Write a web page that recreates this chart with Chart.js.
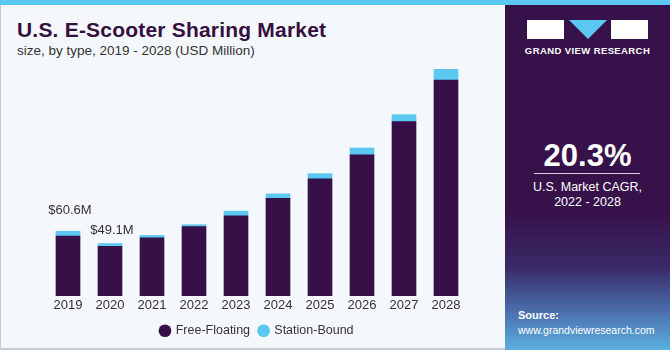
<!DOCTYPE html>
<html><head><meta charset="utf-8">
<script src="https://cdn.jsdelivr.net/npm/chart.js@4"></script>
<style>
html,body{margin:0;padding:0;}
body{width:670px;height:350px;position:relative;overflow:hidden;background:#f4f8fc;font-family:"Liberation Sans",Arial,sans-serif;}
#topbar{position:absolute;left:0;top:0;width:670px;height:5px;background:#5bc8f2;}
#leftline{position:absolute;left:0;top:5px;width:1px;height:345px;background:#c8ccd0;}
#botline{position:absolute;left:0;top:348px;width:505px;height:2px;background:#c8ccd0;}
#title{position:absolute;left:17px;top:18px;font-size:21px;font-weight:bold;color:#35103f;letter-spacing:0.2px;}
#sub{position:absolute;left:17px;top:43px;font-size:13.5px;color:#333;}
#panel{position:absolute;left:505px;top:5px;width:165px;height:345px;background:linear-gradient(to bottom,#37114a 0%,#37114a 60%,#3a2a68 76%,#4a6aa8 88%,#5bb0e0 100%);}
#wrap{position:absolute;left:0;top:0;width:505px;height:350px;}
.w{position:absolute;color:#fff;text-align:center;}
</style></head><body>
<div id="topbar"></div><div id="leftline"></div><div id="botline"></div>
<div id="title">U.S. E-Scooter Sharing Market</div>
<div id="sub">size, by type, 2019 - 2028 (USD Million)</div>
<div id="panel">
  <div style="position:absolute;left:22px;top:15px;width:37px;height:19px;background:#fff;"></div>
  <div style="position:absolute;left:64px;top:15px;width:0;height:0;border-left:19px solid transparent;border-right:19px solid transparent;border-top:19px solid #5bc8f2;"></div>
  <div style="position:absolute;left:106px;top:15px;width:37px;height:19px;background:#fff;"></div>
  <div class="w" style="left:0;top:40px;width:165px;font-size:9.5px;font-weight:bold;letter-spacing:0.4px;">GRAND VIEW RESEARCH</div>
  <div class="w" style="left:0;top:133px;width:165px;font-size:31px;font-weight:bold;">20.3%</div>
  <div style="position:absolute;left:29px;top:168px;width:106px;height:1px;background:#d8d0e0;"></div>
  <div class="w" style="left:0;top:175px;width:165px;font-size:12.5px;line-height:15px;">U.S. Market CAGR,<br>2022 - 2028</div>
  <div class="w" style="left:13px;top:304px;text-align:left;font-size:11px;font-weight:bold;">Source:</div>
  <div class="w" style="left:13px;top:319px;text-align:left;font-size:10.5px;">www.grandviewresearch.com</div>
</div>
<div id="wrap"><canvas id="c" width="505" height="350"></canvas></div>
<script>
const years = ["2019","2020","2021","2022","2023","2024","2025","2026","2027","2028"];
const freeFloating = [56.0, 46.5, 54.4, 64.9, 75.0, 91.5, 109.9, 132.3, 163.4, 202.4];
const stationBound = [4.6, 2.6, 2.3, 1.9, 4.5, 4.2, 4.8, 6.4, 6.6, 10.1];
const valueLabels = {0:"$60.6M", 1:"$49.1M"};

const labelPlugin = {
  id:'vlabels',
  afterDatasetsDraw(chart){
    const ctx = chart.ctx;
    const meta = chart.getDatasetMeta(1);
    ctx.save();
    ctx.font = '13px "Liberation Sans", Arial, sans-serif';
    ctx.fillStyle = '#333';
    ctx.textAlign = 'center';
    ctx.textBaseline = 'bottom';
    const offs = {0:14, 1:7};
    Object.keys(valueLabels).forEach(k=>{
      const el = meta.data[k];
      ctx.fillText(valueLabels[k], el.x + 2, el.y - offs[k]);
    });
    ctx.restore();
  }
};

new Chart(document.getElementById('c'), {
  type:'bar',
  data:{
    labels: years,
    datasets:[
      {label:'Free-Floating', data:freeFloating, backgroundColor:'#361047', borderWidth:0, barThickness:24},
      {label:'Station-Bound', data:stationBound, backgroundColor:'#5bc8f2', borderWidth:0, barThickness:24}
    ]
  },
  options:{
    responsive:false, animation:false,
    layout:{padding:{left:47, right:38, top:56, bottom:3}},
    scales:{
      x:{stacked:true, grid:{display:false, drawTicks:false}, border:{display:false},
         ticks:{color:'#333', font:{size:13, family:'"Liberation Sans", Arial, sans-serif'}, padding:2}},
      y:{stacked:true, display:false, min:0, max:225}
    },
    plugins:{
      legend:{position:'bottom', labels:{usePointStyle:true, pointStyle:'circle', boxWidth:9, boxHeight:9, padding:9, color:'#333', font:{size:12.5, family:'"Liberation Sans", Arial, sans-serif'}}},
      tooltip:{enabled:false}
    }
  },
  plugins:[labelPlugin]
});
</script>
</body></html>
